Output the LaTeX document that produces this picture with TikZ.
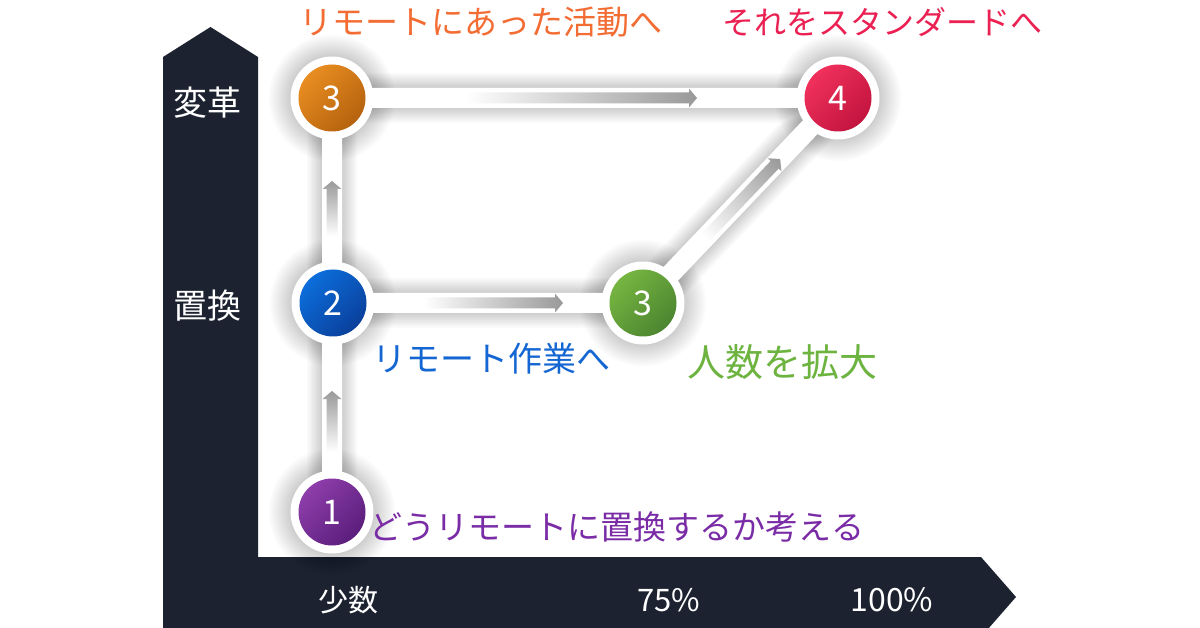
\documentclass[tikz,border=0pt]{standalone}
\usepackage{fontspec}
\setmainfont{Noto Sans CJK JP}
\definecolor{bandc}{HTML}{1C2230}
\definecolor{agray}{HTML}{999999}
\definecolor{tOrange}{HTML}{F36C33}
\definecolor{tRed}{HTML}{EA2152}
\definecolor{tBlue}{HTML}{1467D2}
\definecolor{tGreen}{HTML}{6DB33F}
\definecolor{tPurple}{HTML}{7A2CA6}
\definecolor{oL}{HTML}{E88D20}\definecolor{oD}{HTML}{B5620F}
\definecolor{bL}{HTML}{0C6EDB}\definecolor{bD}{HTML}{0A3F9B}
\definecolor{gL}{HTML}{76B541}\definecolor{gD}{HTML}{4C8530}
\definecolor{rL}{HTML}{F0315C}\definecolor{rD}{HTML}{C2143F}
\definecolor{pL}{HTML}{8E3DAA}\definecolor{pD}{HTML}{5A1E7C}
\newcommand\fs[1]{\fontsize{#1}{#1}\selectfont}
\newcommand\garrow[4]{%
  \begin{scope}[transform canvas={shift={(#1,#2)},rotate=#3}]
    \shade[left color=white, right color=agray]
      (0,-5.5) -- ({#4-8},-5.5) -- ({#4-8},-9.5) -- (#4,0) -- ({#4-8},9.5) -- ({#4-8},5.5) -- (0,5.5) -- cycle;
  \end{scope}}
\tikzset{
  ring/.style={circle, fill=white, minimum size=83pt, inner sep=0pt},
  ball/.style 2 args={circle, minimum size=67pt, inner sep=0pt, shading=axis,
     top color=#1, bottom color=#2, shading angle=45, text=white, font=\fs{34}},
  lbl/.style={inner sep=0pt, anchor=center},
  axl/.style={inner sep=0pt, text=white},
}
\begin{document}
\begin{tikzpicture}[x=1pt,y=-1pt]
\useasboundingbox (0,0) rectangle (1200,628);
\clip (0,0) rectangle (1200,628);
\fill[white] (0,0) rectangle (1200,628);
% axis band
\fill[bandc] (163,640) -- (163,57) -- (210.5,27) -- (258,57) -- (258,557) -- (981,557)
  -- (1016,597) -- (981,637) -- (981,640) -- cycle;
% anchor points
\coordinate (p1) at (332,512);
\coordinate (p2) at (333,303);
\coordinate (p3) at (332,98);
\coordinate (p3b) at (643,303);
\coordinate (p4) at (838,98);
% shadows
\foreach \k in {1,...,12}{
  \draw[black, opacity=0.014, line join=round, line width={20+2.5*\k}] (p1) -- (p3) -- (p4) -- (p3b) -- (p2);
  \foreach \p in {p1,p2,p3,p3b,p4}{
    \fill[black, opacity=0.014] (\p) circle ({41.5+1.8*\k});
  }
}
% white connectors
\draw[white, line width=20, line join=round] (p1) -- (p3) -- (p4) -- (p3b) -- (p2);
% gradient arrows
\garrow{465}{98}{0}{232}
\garrow{423}{303}{0}{140}
\garrow{332}{452}{90}{61}
\garrow{332}{236}{90}{55}
\garrow{705}{238}{46.43}{109}
% circles
\foreach \p/\n in {p1/r1,p2/r2,p3/r3,p3b/r3b,p4/r4}{
  \node[ring] (\n) at (\p) {};
}
\node[ball={pL}{pD}] (c1) at (p1) {1};
\node[ball={bL}{bD}] (c2) at (p2) {2};
\node[ball={oL}{oD}] (c3) at (p3) {3};
\node[ball={gL}{gD}] (c3b) at (p3b) {3};
\node[ball={rL}{rD}] (c4) at (p4) {4};
% labels
\node[lbl, text=tOrange, font=\fs{33}] (t3) at (481,22) {リモートにあった活動へ};
\node[lbl, text=tRed, font=\fs{32}] (t4) at (882,22) {それをスタンダードへ};
\node[lbl, text=tBlue, font=\fs{34}] (t2) at (491,359) {リモート作業へ};
\node[lbl, text=tGreen, font=\fs{38}] (t3b) at (782,362) {人数を拡大};
\node[lbl, text=tPurple, font=\fs{33}] (t1) at (617,527) {どうリモートに置換するか考える};
% axis labels
\node[axl, font=\fs{34}] (y2) at (207,103) {変革};
\node[axl, font=\fs{34}] (y1) at (207,306) {置換};
\node[axl, font=\fs{30}] (x1) at (348,600) {少数};
\node[axl, font=\fs{31}] (x2) at (669,600) {75\%};
\node[axl, font=\fs{32}] (x3) at (892,600) {100\%};
\end{tikzpicture}
\end{document}
